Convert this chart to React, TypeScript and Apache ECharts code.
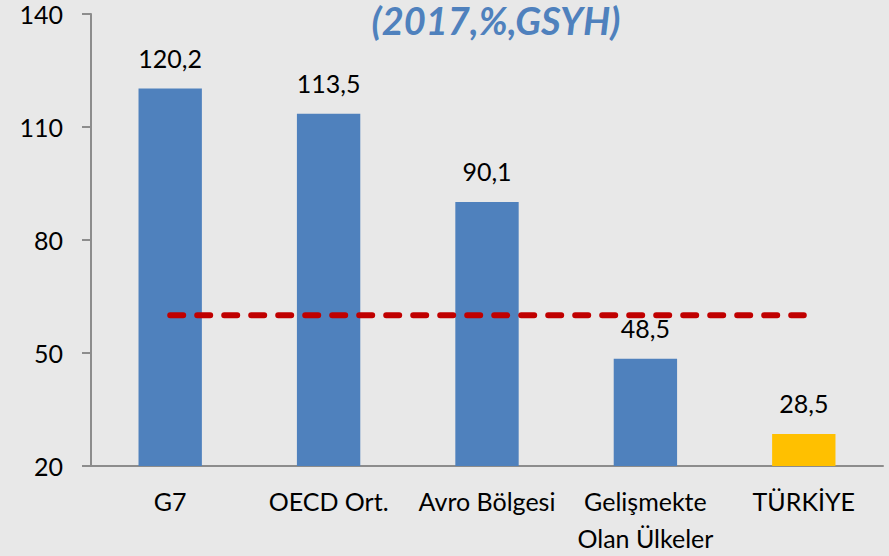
import React, { useEffect, useRef } from "react";
import * as echarts from "echarts";

const categories = ["G7", "OECD Ort.", "Avro Bölgesi", "Gelişmekte\nOlan Ülkeler", "TÜRKİYE"];
const values = [120.2, 113.5, 90.1, 48.5, 28.5];
const barColors = ["#4F81BD", "#4F81BD", "#4F81BD", "#4F81BD", "#FFC000"];
const referenceLine = [60, 60, 60, 60, 60];
const yTicks = { min: 20, max: 140, interval: 30 };
const titleText = "(2017,%,GSYH)";

export default function App() {
  const ref = useRef<HTMLDivElement>(null);
  useEffect(() => {
    if (!ref.current) return;
    const chart = echarts.init(ref.current, null, { renderer: "svg" });
    const font = "Lato";
    chart.setOption({
      animation: false,
      backgroundColor: "#E8E8E8",
      grid: { left: 91, right: 6, top: 14, bottom: 89, containLabel: false },
      graphic: [
        {
          type: "text",
          x: 496,
          y: 20,
          style: {
            text: titleText,
            fill: "#4F81BD",
            font: `italic bold 38px ${font}`,
            align: "center",
            verticalAlign: "middle",
          },
        },
      ],
      xAxis: {
        type: "category",
        data: categories,
        axisLine: { lineStyle: { color: "#8C8C8C", width: 2 } },
        axisTick: { length: 9, lineStyle: { color: "#8C8C8C", width: 2 } },
        axisLabel: {
          color: "#000",
          fontFamily: font,
          fontSize: 25,
          lineHeight: 37,
          margin: 16,
          interval: 0,
        },
      },
      yAxis: {
        type: "value",
        min: yTicks.min,
        max: yTicks.max,
        interval: yTicks.interval,
        splitLine: { show: false },
        axisLine: { show: true, lineStyle: { color: "#8C8C8C", width: 2 } },
        axisTick: { show: true, length: 9, lineStyle: { color: "#8C8C8C", width: 2 } },
        axisLabel: { color: "#000", fontFamily: font, fontSize: 25, margin: 28 },
      },
      series: [
        {
          type: "bar",
          barCategoryGap: "60%",
          data: values.map((v, i) => ({ value: v, itemStyle: { color: barColors[i] } })),
          label: {
            show: true,
            position: "top",
            distance: 18,
            color: "#000",
            fontFamily: font,
            fontSize: 25,
            formatter: (p: any) => String(p.value).replace(".", ","),
          },
        },
        {
          type: "line",
          data: referenceLine,
          symbol: "none",
          lineStyle: { color: "#C00000", width: 6, type: [13, 14], cap: "round" },
          z: 5,
        },
      ],
    });
    return () => chart.dispose();
  }, []);
  return <div ref={ref} style={{ width: 889, height: 556, position: "absolute", left: 0, top: 0 }} />;
}
